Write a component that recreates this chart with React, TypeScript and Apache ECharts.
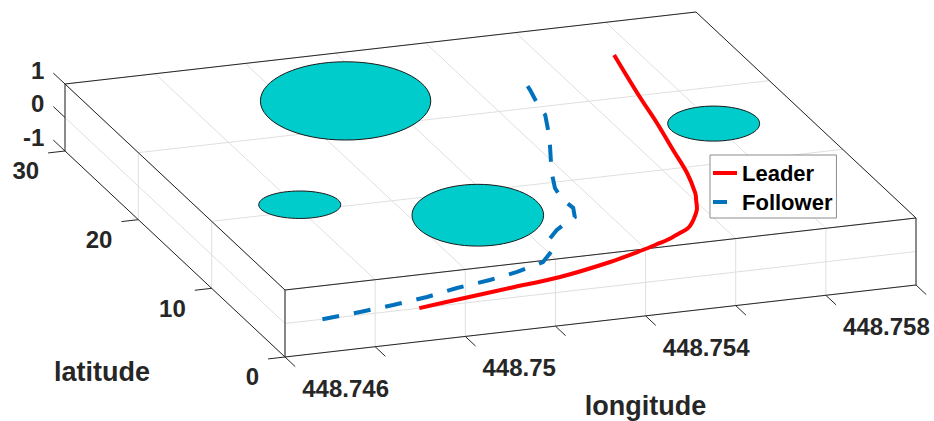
import React, { useEffect, useRef } from 'react';
import * as echarts from 'echarts';

// ---- Data ----
const lonTicks = [448.746, 448.748, 448.75, 448.752, 448.754, 448.756, 448.758, 448.76];
const lonTickLabels = ['448.746', '', '448.75', '', '448.754', '', '448.758', ''];
const latTicks = [0, 10, 20, 30];
const latTickLabels = ['0', '10', '20', '30'];
const zTicks = [-1, 0, 1];
const zTickLabels = ['-1', '0', '1'];

const leaderLon = [448.74898, 448.74998, 448.7512, 448.75242, 448.75373, 448.75463, 448.75512, 448.75532, 448.75572, 448.75598, 448.75617, 448.75654, 448.75672, 448.75687, 448.75713, 448.75734, 448.75759, 448.7578, 448.75818];
const leaderLat = [0, 0.59, 1.28, 1.96, 3.17, 4.24, 4.9, 5.18, 5.9, 6.4, 7.02, 8.63, 9.81, 10.87, 13.58, 16.78, 20.52, 24.14, 29.98];

const followerLon = [448.74683, 448.74773, 448.74853, 448.74937, 448.75015, 448.75097, 448.75168, 448.7524, 448.75277, 448.75294, 448.75335, 448.75372, 448.75398, 448.75414, 448.75411, 448.7542, 448.75442, 448.75471, 448.75501, 448.75529, 448.75555, 448.75564, 448.75578, 448.75587];
const followerLat = [0, 0.38, 0.8, 1.34, 2.06, 2.61, 3.25, 4.16, 5.34, 6.81, 8.11, 9.0, 9.53, 10.73, 12.06, 13.59, 15.32, 17.28, 19.25, 21.22, 23.21, 24.89, 26.68, 28.36];

const obstacleLon = [448.7519, 448.7488, 448.7521, 448.7587];
const obstacleLat = [28.0, 15.2, 11.2, 19.6];
const obstacleRadiusLon = [0.00189, 0.00091, 0.00146, 0.00102];
const obstacleRadiusLat = [5.7, 2.0, 4.5, 2.55];

const seriesNames = ['Leader', 'Follower'];
const axisTitles = { x: 'longitude', y: 'latitude' };

// ---- Axis ranges and projection (layout) ----
const LON_MIN = 448.746, LON_MAX = 448.76;
const LAT_MIN = 0, LAT_MAX = 30;
const Z_MIN = -1, Z_MAX = 1;
const ORIGIN = [285, 357];
const U = [631, -72];
const V = [-220, -206];
const W = [0, -67];

function project(lon: number, lat: number, z: number): number[] {
  const a = (lon - LON_MIN) / (LON_MAX - LON_MIN);
  const b = (lat - LAT_MIN) / (LAT_MAX - LAT_MIN);
  const c = (z - Z_MIN) / (Z_MAX - Z_MIN);
  return [ORIGIN[0] + a * U[0] + b * V[0] + c * W[0], ORIGIN[1] + a * U[1] + b * V[1] + c * W[1]];
}
function unit(v: number[], len: number) {
  const n = Math.hypot(v[0], v[1]);
  return [(v[0] / n) * len, (v[1] / n) * len];
}

const FONT = "'Liberation Sans', Arial, Helvetica, sans-serif";
const AXIS_COLOR = '#262626';
const GRID_COLOR = '#dfdfdf';

function seg(p: number[], q: number[], stroke: string, lw: number) {
  return { type: 'line', silent: true, shape: { x1: p[0], y1: p[1], x2: q[0], y2: q[1] }, style: { stroke, lineWidth: lw } };
}
function txt(s: string, x: number, y: number, size: number, align: string, vAlign: string, color = AXIS_COLOR) {
  return {
    type: 'text', silent: true,
    style: {
      text: s, x, y, fill: color, fontSize: size, fontWeight: 'bold', fontFamily: FONT,
      align, verticalAlign: vAlign, textAlign: align, textVerticalAlign: vAlign,
    },
  };
}

function boxElements() {
  const els: any[] = [];
  // grid: top plane (z = max)
  lonTicks.forEach((lon) => els.push(seg(project(lon, LAT_MIN, Z_MAX), project(lon, LAT_MAX, Z_MAX), GRID_COLOR, 1)));
  latTicks.forEach((lat) => els.push(seg(project(LON_MIN, lat, Z_MAX), project(LON_MAX, lat, Z_MAX), GRID_COLOR, 1)));
  // grid: front plane (lat = min)
  lonTicks.forEach((lon) => els.push(seg(project(lon, LAT_MIN, Z_MIN), project(lon, LAT_MIN, Z_MAX), GRID_COLOR, 1)));
  zTicks.forEach((z) => els.push(seg(project(LON_MIN, LAT_MIN, z), project(LON_MAX, LAT_MIN, z), GRID_COLOR, 1)));
  // grid: left plane (lon = min)
  latTicks.forEach((lat) => els.push(seg(project(LON_MIN, lat, Z_MIN), project(LON_MIN, lat, Z_MAX), GRID_COLOR, 1)));
  zTicks.forEach((z) => els.push(seg(project(LON_MIN, LAT_MIN, z), project(LON_MIN, LAT_MAX, z), GRID_COLOR, 1)));

  // box edges
  const E = (a: number[], b: number[]) => els.push(seg(project(a[0], a[1], a[2]), project(b[0], b[1], b[2]), AXIS_COLOR, 1));
  E([LON_MIN, LAT_MAX, Z_MAX], [LON_MAX, LAT_MAX, Z_MAX]);
  E([LON_MIN, LAT_MAX, Z_MIN], [LON_MIN, LAT_MAX, Z_MAX]);
  E([LON_MIN, LAT_MAX, Z_MAX], [LON_MIN, LAT_MIN, Z_MAX]);
  E([LON_MIN, LAT_MAX, Z_MIN], [LON_MIN, LAT_MIN, Z_MIN]);
  E([LON_MIN, LAT_MIN, Z_MIN], [LON_MIN, LAT_MIN, Z_MAX]);
  E([LON_MIN, LAT_MIN, Z_MAX], [LON_MAX, LAT_MIN, Z_MAX]);
  E([LON_MIN, LAT_MIN, Z_MIN], [LON_MAX, LAT_MIN, Z_MIN]);
  E([LON_MAX, LAT_MIN, Z_MIN], [LON_MAX, LAT_MIN, Z_MAX]);
  E([LON_MAX, LAT_MAX, Z_MAX], [LON_MAX, LAT_MIN, Z_MAX]);

  // lon ticks & labels
  const lonDir = unit([-V[0], -V[1]], 14);
  lonTicks.forEach((lon, i) => {
    const p = project(lon, LAT_MIN, Z_MIN);
    const q = [p[0] + lonDir[0], p[1] + lonDir[1]];
    els.push(seg(p, q, AXIS_COLOR, 1));
    if (lonTickLabels[i]) els.push(txt(lonTickLabels[i], q[0] + 7, q[1] + 22, 24, 'left', 'middle'));
  });
  // lat ticks & labels
  const latDir = unit([-U[0], -U[1]], 17);
  latTicks.forEach((lat, i) => {
    const p = project(LON_MIN, lat, Z_MIN);
    const q = [p[0] + latDir[0], p[1] + latDir[1]];
    els.push(seg(p, q, AXIS_COLOR, 1));
    els.push(txt(latTickLabels[i], q[0] - 9, q[1] + 18, 24, 'right', 'middle'));
  });
  // z ticks & labels
  const zDir = unit(V, 16);
  zTicks.forEach((z, i) => {
    const p = project(LON_MIN, LAT_MAX, z);
    const q = [p[0] + zDir[0], p[1] + zDir[1]];
    els.push(seg(p, q, AXIS_COLOR, 1));
    els.push(txt(zTickLabels[i], q[0] - 9, q[1] - 3, 24, 'right', 'middle'));
  });
  // axis titles
  const lonMid = project((LON_MIN + LON_MAX) / 2, LAT_MIN, Z_MIN);
  els.push(txt(axisTitles.x, lonMid[0] + 45, lonMid[1] + 85, 27, 'center', 'middle'));
  const latMid = project(LON_MIN, (LAT_MIN + LAT_MAX) / 2, Z_MIN);
  els.push(txt(axisTitles.y, latMid[0] - 73, latMid[1] + 118, 27, 'center', 'middle'));
  return els;
}

function buildOption(): any {
  const obstacleData = obstacleLon.map((lon, i) => [lon, obstacleLat[i], obstacleRadiusLon[i], obstacleRadiusLat[i]]);
  return {
    animation: false,
    backgroundColor: '#ffffff',
    legend: {
      orient: 'vertical',
      left: 710,
      top: 155,
      data: [
        { name: seriesNames[0], icon: 'path://M0,0H24V4H0Z', itemStyle: { color: '#ff0000' } },
        { name: seriesNames[1], icon: 'path://M0,0H14V4H0Z M24,4', itemStyle: { color: '#0072bd' } },
      ],
      itemWidth: 24,
      itemHeight: 4,
      itemGap: 7,
      itemTextGap: 3,
      padding: [7, 4, 5, 3],
      borderColor: '#8c8c8c',
      borderWidth: 1,
      backgroundColor: '#ffffff',
      selectedMode: false,
      textStyle: { fontSize: 22, fontWeight: 'bold', color: '#000000', fontFamily: FONT },
    },
    series: [
      {
        type: 'custom', name: 'box', coordinateSystem: 'none', silent: true, z: 1,
        data: [0],
        renderItem: () => ({ type: 'group', children: boxElements() }),
      },
      {
        type: 'custom', name: 'obstacles', coordinateSystem: 'none', silent: true, z: 2,
        data: obstacleData,
        renderItem: (_p: any, api: any) => {
          const c = project(api.value(0), api.value(1), 0);
          const rx = (api.value(2) / (LON_MAX - LON_MIN)) * U[0];
          const ry = (api.value(3) / (LAT_MAX - LAT_MIN)) * -V[1];
          return {
            type: 'ellipse',
            shape: { cx: c[0], cy: c[1], rx, ry },
            style: { fill: '#00cccc', stroke: '#1a1a1a', lineWidth: 1 },
          };
        },
      },
      {
        type: 'custom', name: seriesNames[0], coordinateSystem: 'none', silent: true, z: 3,
        itemStyle: { color: '#ff0000' },
        data: [0],
        renderItem: () => ({
          type: 'polyline',
          shape: { points: leaderLon.map((lon, i) => project(lon, leaderLat[i], 0)), smooth: 0.35 },
          style: { stroke: '#ff0000', lineWidth: 4, fill: 'none' },
        }),
      },
      {
        type: 'custom', name: seriesNames[1], coordinateSystem: 'none', silent: true, z: 3,
        itemStyle: { color: '#0072bd' },
        data: [0],
        renderItem: () => ({
          type: 'polyline',
          shape: { points: followerLon.map((lon, i) => project(lon, followerLat[i], 0)) },
          style: { stroke: '#0072bd', lineWidth: 4, fill: 'none', lineDash: [17, 15] },
        }),
      },
    ],
  };
}

export default function App() {
  const ref = useRef<HTMLDivElement>(null);
  useEffect(() => {
    document.body.style.margin = '0';
    const chart = echarts.init(ref.current as HTMLDivElement, undefined, { renderer: 'svg', width: 934, height: 421 });
    chart.setOption(buildOption());
    return () => chart.dispose();
  }, []);
  return <div ref={ref} style={{ width: 934, height: 421 }} />;
}
